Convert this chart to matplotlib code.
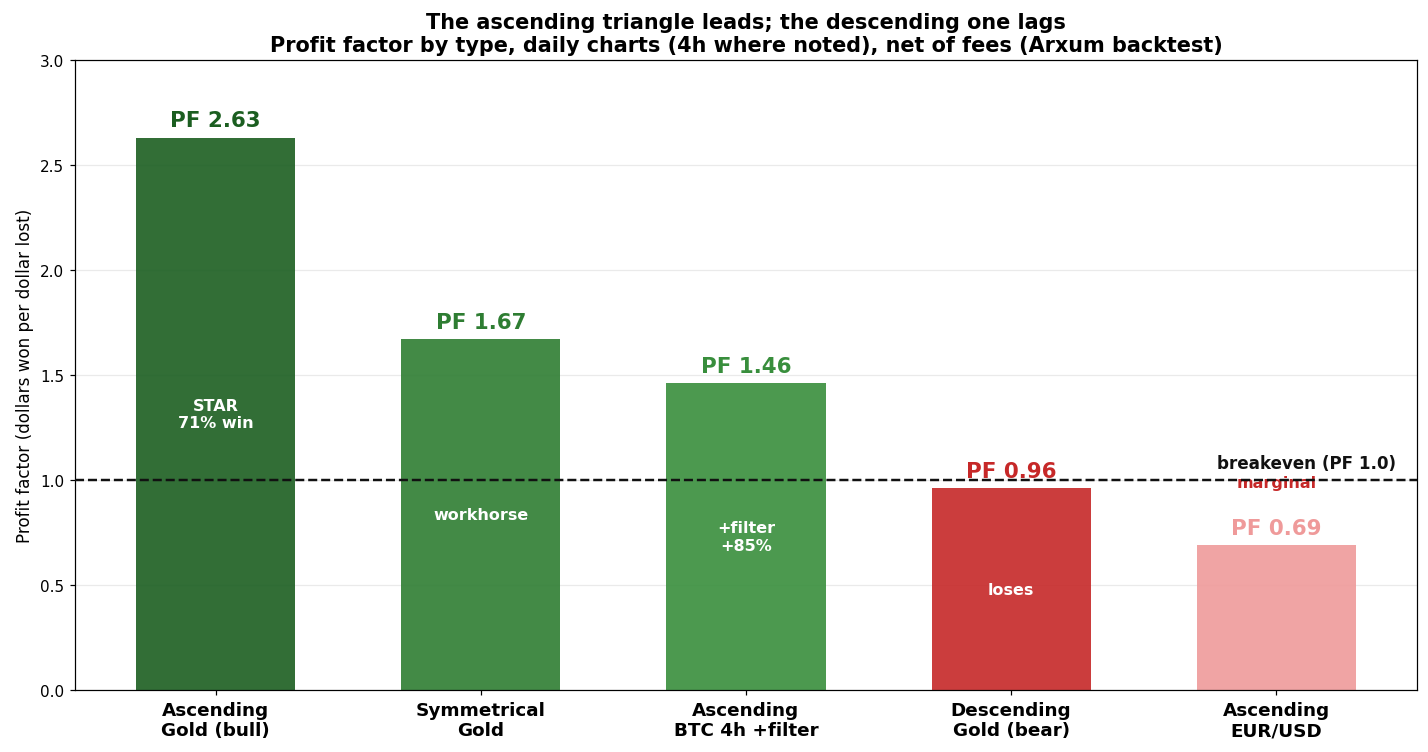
import matplotlib.pyplot as plt

categories = ['Ascending\nGold (bull)', 'Symmetrical\nGold', 'Ascending\nBTC 4h +filter',
              'Descending\nGold (bear)', 'Ascending\nEUR/USD']
profit_factor = [2.63, 1.67, 1.46, 0.96, 0.69]
inner_notes = ['STAR\n71% win', 'workhorse', '+filter\n+85%', 'loses', 'marginal']
colors = ['#1b5e20', '#2e7d32', '#388e3c', '#c62828', '#ef9a9a']

fig, ax = plt.subplots(figsize=(12.99, 6.845), dpi=110)
x = range(len(categories))
bars = ax.bar(x, profit_factor, width=0.6, color=colors, alpha=0.9, zorder=2)

for i, (h, c) in enumerate(zip(profit_factor, colors)):
    ax.text(i, h + 0.035, f'PF {h:.2f}', ha='center', va='bottom',
            fontsize=14, fontweight='bold', color=c)

# notes inside the bars (the last one sits on the breakeven line)
for i, (h, note) in enumerate(zip(profit_factor, inner_notes)):
    if note == 'marginal':
        ax.text(i, 0.99, note, ha='center', va='center', fontsize=10.5,
                fontweight='bold', color='#c62828', zorder=3)
    else:
        ax.text(i, h / 2, note, ha='center', va='center', fontsize=10.5,
                fontweight='bold', color='white', zorder=3)

ax.axhline(1.0, color='#111111', linestyle='--', linewidth=1.6, zorder=3)
ax.text(4.45, 1.04, 'breakeven (PF 1.0)', ha='right', va='bottom',
        fontsize=11, fontweight='bold', color='#111111')

ax.set_ylim(0, 3)
ax.set_xlim(-0.53, 4.53)
ax.set_xticks(list(x))
ax.set_xticklabels(categories, fontsize=12, fontweight='bold')
ax.set_ylabel('Profit factor (dollars won per dollar lost)', fontsize=11)
ax.yaxis.grid(True, color='#dddddd', alpha=0.6, zorder=0)
ax.set_axisbelow(True)
ax.set_title('The ascending triangle leads; the descending one lags\n'
             'Profit factor by type, daily charts (4h where noted), net of fees (Arxum backtest)',
             fontsize=13.6, fontweight='bold')

plt.subplots_adjust(left=0.0525, right=0.9916, top=0.919, bottom=0.0823)
plt.savefig('out.png', dpi=110)
